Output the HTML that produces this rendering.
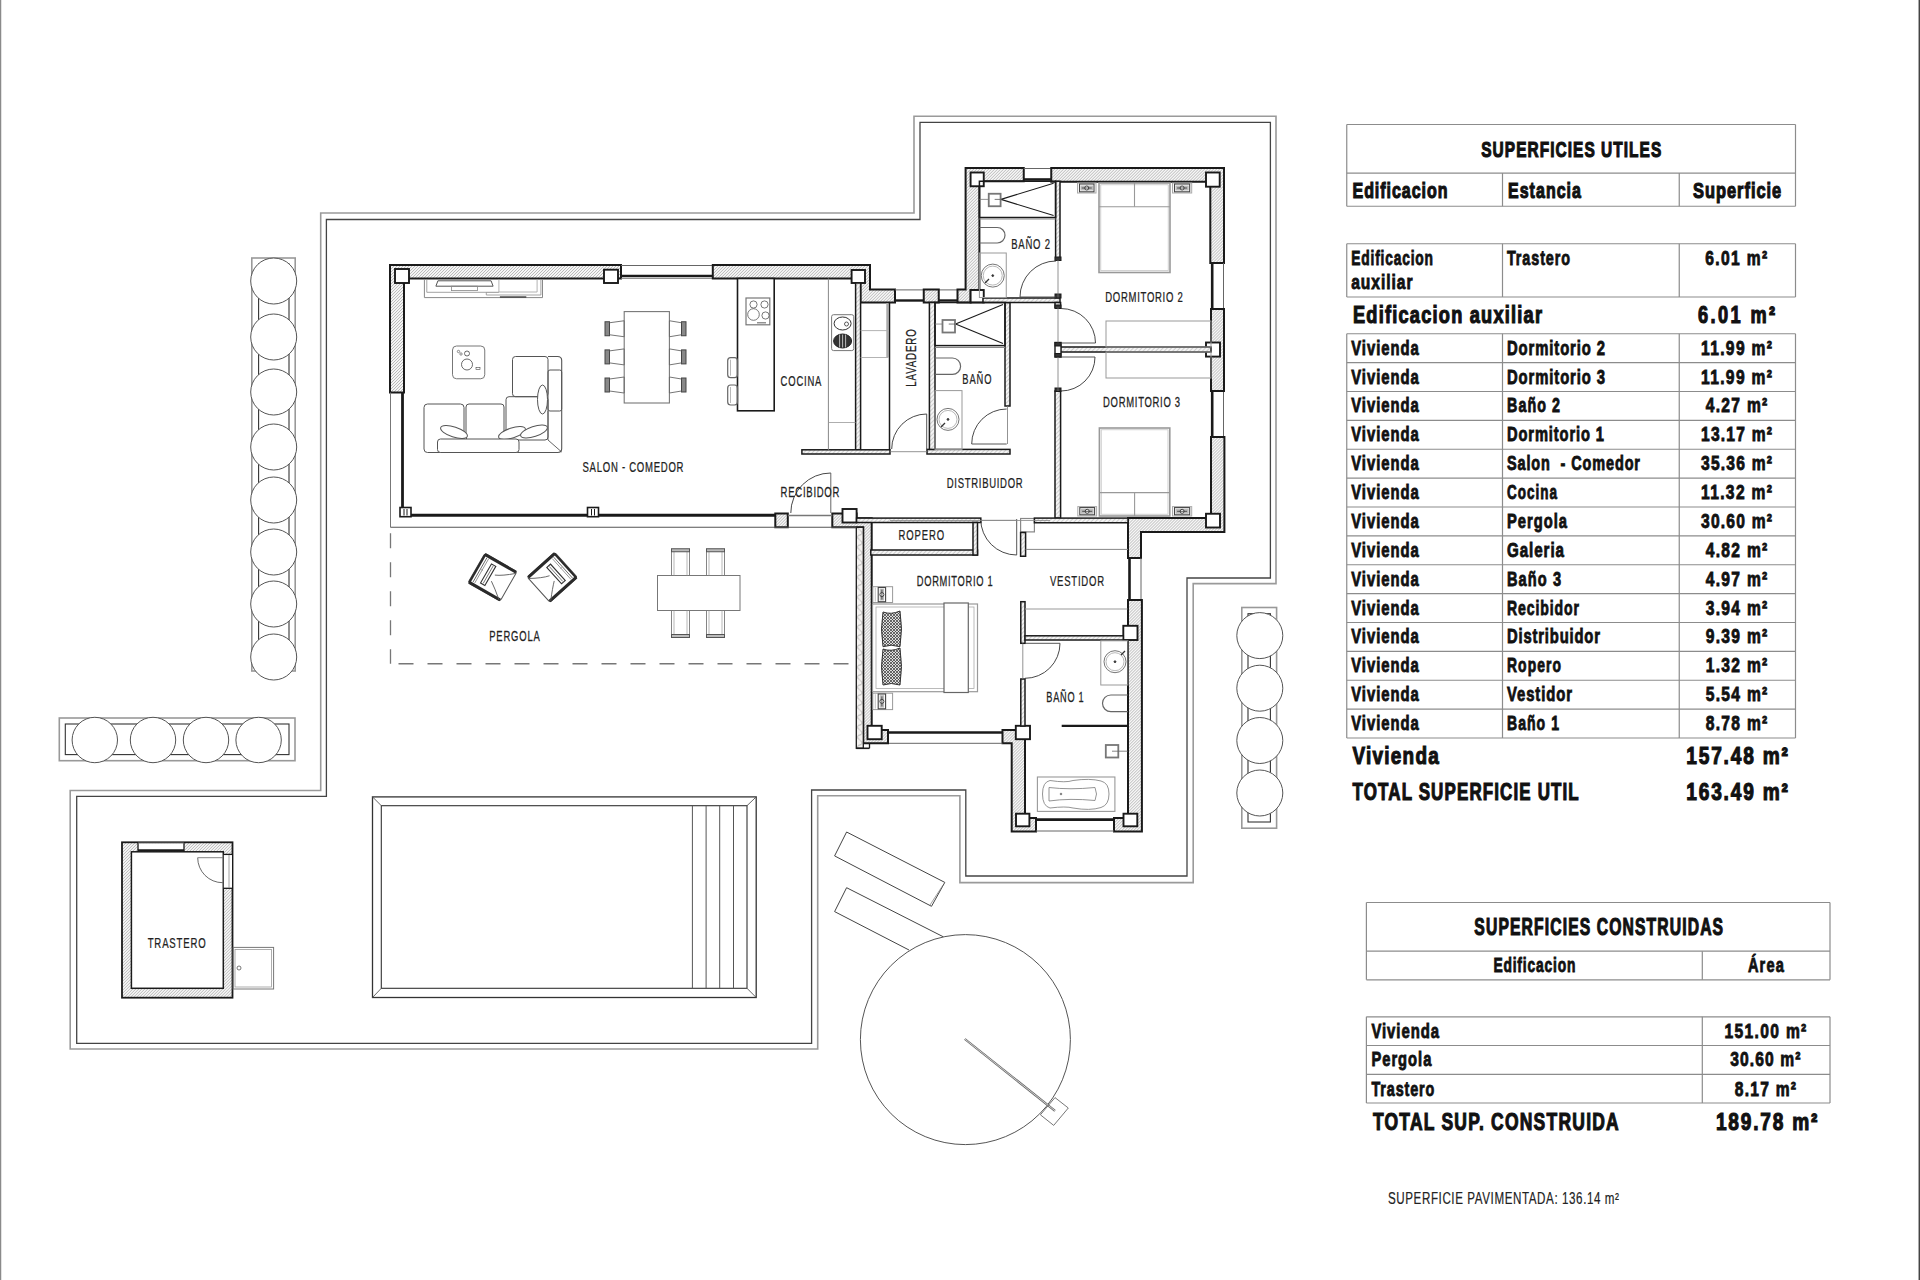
<!DOCTYPE html>
<html><head><meta charset="utf-8"><title>Plano</title>
<style>html,body{margin:0;padding:0;background:#fff;overflow:hidden}svg{display:block}</style>
</head><body>
<svg width="1920" height="1280" viewBox="0 0 1920 1280" style="font-family:'Liberation Sans',sans-serif">
<defs>
<pattern id="hatch" patternUnits="userSpaceOnUse" width="2.12" height="2.12" patternTransform="rotate(45)">
<rect width="2.12" height="2.12" fill="#f6f6f6"/><line x1="0" y1="0" x2="0" y2="2.12" stroke="#7a7a7a" stroke-width="0.7"/></pattern>
<pattern id="hatch2" patternUnits="userSpaceOnUse" width="3" height="3" patternTransform="rotate(45)">
<rect width="3" height="3" fill="#f4f4f4"/><line x1="0" y1="0" x2="0" y2="3" stroke="#999" stroke-width="0.8"/></pattern>
<pattern id="insul" patternUnits="userSpaceOnUse" x="856.3" y="0" width="7" height="10">
<rect width="7" height="10" fill="#f4f2f0"/><path d="M3.5,0 C6.5,2 6.5,4.5 3.5,5 C0.5,5.5 0.5,8 3.5,10" fill="none" stroke="#9a9a9a" stroke-width="0.8"/></pattern>
<pattern id="quilt" patternUnits="userSpaceOnUse" width="3" height="3">
<rect width="3" height="3" fill="#ddd"/><path d="M0,0 L3,3 M3,0 L0,3" stroke="#333" stroke-width="0.7"/></pattern>
</defs>
<line x1="0.50" y1="0.00" x2="0.50" y2="1280.00" stroke="#8a8a8a" stroke-width="1.5" />
<line x1="1919.30" y1="0.00" x2="1919.30" y2="1280.00" stroke="#444" stroke-width="1.5" />
<path d="M70.20,1049.00 L817.70,1049.00 L817.70,795.80 L959.90,795.80 L959.90,882.60 L1193.20,882.60 L1193.20,583.60 L1276.00,583.60 L1276.00,116.30 L914.00,116.30 L914.00,213.00 L320.70,213.00 L320.70,790.50 L70.20,790.50 Z" fill="none" stroke="#9a9a9a" stroke-width="1.6" />
<path d="M76.70,1043.30 L811.60,1043.30 L811.60,790.00 L965.80,790.00 L965.80,876.00 L1187.00,876.00 L1187.00,578.00 L1270.40,578.00 L1270.40,122.30 L920.00,122.30 L920.00,219.50 L326.40,219.50 L326.40,796.40 L76.70,796.40 Z" fill="none" stroke="#444" stroke-width="1.3" />
<rect x="251.80" y="258.00" width="43.40" height="413.00" fill="none" stroke="#999" stroke-width="1.6" />
<rect x="258.60" y="264.00" width="30.40" height="401.00" fill="none" stroke="#333" stroke-width="1.1" />
<circle cx="273.70" cy="281.00" r="23.00" fill="#fff" stroke="#555" stroke-width="1.0" />
<circle cx="273.70" cy="337.00" r="23.00" fill="#fff" stroke="#555" stroke-width="1.0" />
<circle cx="273.70" cy="392.00" r="23.00" fill="#fff" stroke="#555" stroke-width="1.0" />
<circle cx="273.70" cy="447.00" r="23.00" fill="#fff" stroke="#555" stroke-width="1.0" />
<circle cx="273.70" cy="500.00" r="23.00" fill="#fff" stroke="#555" stroke-width="1.0" />
<circle cx="273.70" cy="552.00" r="23.00" fill="#fff" stroke="#555" stroke-width="1.0" />
<circle cx="273.70" cy="604.00" r="23.00" fill="#fff" stroke="#555" stroke-width="1.0" />
<circle cx="273.70" cy="657.00" r="23.00" fill="#fff" stroke="#555" stroke-width="1.0" />
<rect x="59.30" y="718.00" width="235.70" height="42.70" fill="none" stroke="#999" stroke-width="1.6" />
<rect x="65.30" y="724.00" width="223.70" height="30.60" fill="none" stroke="#333" stroke-width="1.1" />
<circle cx="94.80" cy="740.00" r="22.70" fill="#fff" stroke="#555" stroke-width="1.0" />
<circle cx="153.00" cy="740.00" r="22.70" fill="#fff" stroke="#555" stroke-width="1.0" />
<circle cx="206.00" cy="740.00" r="22.70" fill="#fff" stroke="#555" stroke-width="1.0" />
<circle cx="258.60" cy="740.00" r="22.70" fill="#fff" stroke="#555" stroke-width="1.0" />
<rect x="1241.80" y="607.50" width="34.80" height="220.70" fill="none" stroke="#999" stroke-width="1.6" />
<rect x="1248.00" y="613.70" width="22.40" height="208.30" fill="none" stroke="#333" stroke-width="1.1" />
<circle cx="1259.80" cy="635.60" r="23.00" fill="#fff" stroke="#555" stroke-width="1.0" />
<circle cx="1259.80" cy="688.20" r="23.00" fill="#fff" stroke="#555" stroke-width="1.0" />
<circle cx="1259.80" cy="740.50" r="23.00" fill="#fff" stroke="#555" stroke-width="1.0" />
<circle cx="1259.80" cy="793.00" r="23.00" fill="#fff" stroke="#555" stroke-width="1.0" />
<path d="M390.00,265.00 L621.00,265.00 L621.00,278.50 L404.00,278.50 L404.00,392.50 L390.00,392.50 Z" fill="url(#hatch)" stroke="#1a1a1a" stroke-width="2.0" />
<line x1="621.00" y1="265.50" x2="712.80" y2="265.50" stroke="#666" stroke-width="1.0" />
<line x1="621.00" y1="276.00" x2="712.80" y2="276.00" stroke="#1a1a1a" stroke-width="2.6" />
<line x1="621.00" y1="278.50" x2="712.80" y2="278.50" stroke="#777" stroke-width="0.8" />
<path d="M712.80,265.00 L870.00,265.00 L870.00,289.40 L895.00,289.40 L895.00,302.50 L860.50,302.50 L860.50,278.50 L712.80,278.50 Z" fill="url(#hatch)" stroke="#1a1a1a" stroke-width="2.0" />
<line x1="895.00" y1="289.90" x2="923.75" y2="289.90" stroke="#666" stroke-width="1.0" />
<line x1="895.00" y1="300.50" x2="923.75" y2="300.50" stroke="#1a1a1a" stroke-width="2.4" />
<line x1="938.75" y1="289.90" x2="957.50" y2="289.90" stroke="#666" stroke-width="1.0" />
<line x1="938.75" y1="300.50" x2="957.50" y2="300.50" stroke="#1a1a1a" stroke-width="2.4" />
<path d="M923.75,289.40 L938.75,289.40 L938.75,302.50 L923.75,302.50 Z" fill="url(#hatch)" stroke="#1a1a1a" stroke-width="2.0" />
<path d="M957.50,289.40 L965.60,289.40 L965.60,168.00 L1023.75,168.00 L1023.75,181.25 L979.40,181.25 L979.40,290.00 L970.60,290.00 L970.60,302.50 L957.50,302.50 Z" fill="url(#hatch)" stroke="#1a1a1a" stroke-width="2.0" />
<line x1="1023.75" y1="168.50" x2="1051.25" y2="168.50" stroke="#666" stroke-width="1.0" />
<line x1="1023.75" y1="179.50" x2="1051.25" y2="179.50" stroke="#1a1a1a" stroke-width="2.6" />
<path d="M1051.25,168.00 L1224.00,168.00 L1224.00,263.00 L1210.30,263.00 L1210.30,181.70 L1051.25,181.70 Z" fill="url(#hatch)" stroke="#1a1a1a" stroke-width="2.0" />
<line x1="1223.50" y1="263.00" x2="1223.50" y2="309.00" stroke="#666" stroke-width="1.0" />
<line x1="1212.20" y1="263.00" x2="1212.20" y2="309.00" stroke="#1a1a1a" stroke-width="2.6" />
<line x1="1223.50" y1="391.00" x2="1223.50" y2="437.00" stroke="#666" stroke-width="1.0" />
<line x1="1212.20" y1="391.00" x2="1212.20" y2="437.00" stroke="#1a1a1a" stroke-width="2.6" />
<path d="M1211.00,309.00 L1224.00,309.00 L1224.00,391.00 L1211.00,391.00 Z" fill="url(#hatch)" stroke="#1a1a1a" stroke-width="2.0" />
<path d="M1211.00,437.00 L1224.40,437.00 L1224.40,531.90 L1141.00,531.90 L1141.00,558.00 L1128.00,558.00 L1128.00,518.10 L1211.00,518.10 Z" fill="url(#hatch)" stroke="#1a1a1a" stroke-width="2.0" />
<line x1="1141.00" y1="558.00" x2="1141.00" y2="600.00" stroke="#666" stroke-width="1.0" />
<line x1="1129.50" y1="558.00" x2="1129.50" y2="600.00" stroke="#1a1a1a" stroke-width="2.6" />
<path d="M1128.00,600.00 L1141.90,600.00 L1141.90,831.50 L1114.00,831.50 L1114.00,818.00 L1128.00,818.00 Z" fill="url(#hatch)" stroke="#1a1a1a" stroke-width="2.0" />
<path d="M1002.50,730.00 L1025.00,730.00 L1025.00,818.00 L1036.00,818.00 L1036.00,831.50 L1011.70,831.50 L1011.70,743.30 L1002.50,743.30 Z" fill="url(#hatch)" stroke="#1a1a1a" stroke-width="2.0" />
<line x1="1036.00" y1="819.60" x2="1114.00" y2="819.60" stroke="#1a1a1a" stroke-width="2.6" />
<line x1="1036.00" y1="831.00" x2="1114.00" y2="831.00" stroke="#666" stroke-width="1.0" />
<line x1="888.00" y1="732.50" x2="1002.50" y2="732.50" stroke="#1a1a1a" stroke-width="2.6" />
<line x1="888.00" y1="743.30" x2="1002.50" y2="743.30" stroke="#666" stroke-width="1.0" />
<path d="M832.30,513.60 L856.60,513.60 L856.60,518.30 L871.70,518.30 L871.70,730.00 L888.00,730.00 L888.00,743.30 L863.30,743.30 L863.30,527.30 L832.30,527.30 Z" fill="url(#hatch)" stroke="#1a1a1a" stroke-width="2.0" />
<rect x="856.30" y="527.30" width="7.00" height="221.00" fill="url(#insul)" stroke="#1a1a1a" stroke-width="1.3" />
<line x1="856.30" y1="748.30" x2="869.50" y2="748.30" stroke="#1a1a1a" stroke-width="1.6" />
<line x1="869.50" y1="743.30" x2="869.50" y2="748.30" stroke="#1a1a1a" stroke-width="1.3" />
<path d="M775.30,513.60 L787.80,513.60 L787.80,527.30 L775.30,527.30 Z" fill="url(#hatch)" stroke="#1a1a1a" stroke-width="2.0" />
<line x1="390.50" y1="392.50" x2="390.50" y2="527.30" stroke="#777" stroke-width="1.0" />
<line x1="402.50" y1="392.50" x2="402.50" y2="515.20" stroke="#1a1a1a" stroke-width="2.8" />
<line x1="402.50" y1="515.20" x2="775.30" y2="515.20" stroke="#1a1a1a" stroke-width="3.0" />
<line x1="390.50" y1="527.30" x2="856.30" y2="527.30" stroke="#555" stroke-width="1.1" />
<rect x="400.00" y="507.50" width="11.00" height="9.20" fill="#fff" stroke="#1a1a1a" stroke-width="1.6" />
<line x1="404.00" y1="509.00" x2="404.00" y2="515.50" stroke="#1a1a1a" stroke-width="1" />
<line x1="407.00" y1="509.00" x2="407.00" y2="515.50" stroke="#1a1a1a" stroke-width="1" />
<rect x="587.50" y="507.50" width="11.00" height="9.20" fill="#fff" stroke="#1a1a1a" stroke-width="1.6" />
<line x1="591.50" y1="509.00" x2="591.50" y2="515.50" stroke="#1a1a1a" stroke-width="1" />
<line x1="594.50" y1="509.00" x2="594.50" y2="515.50" stroke="#1a1a1a" stroke-width="1" />
<line x1="787.80" y1="515.50" x2="832.30" y2="515.50" stroke="#777" stroke-width="1.6" />
<path d="M790.80,513.00 A40.00,40.00 0 0 1 830.80,473.00" fill="none" stroke="#333" stroke-width="0.9" />
<line x1="830.80" y1="473.00" x2="830.80" y2="513.00" stroke="#555" stroke-width="0.9" />
<rect x="395.00" y="269.00" width="14.00" height="14.00" fill="#fff" stroke="#1a1a1a" stroke-width="1.9" />
<rect x="604.00" y="269.70" width="14.00" height="13.30" fill="#fff" stroke="#1a1a1a" stroke-width="1.9" />
<rect x="851.60" y="270.00" width="13.40" height="13.00" fill="#fff" stroke="#1a1a1a" stroke-width="1.9" />
<rect x="970.60" y="290.00" width="13.15" height="12.50" fill="#fff" stroke="#1a1a1a" stroke-width="1.9" />
<rect x="970.60" y="172.50" width="13.15" height="13.75" fill="#fff" stroke="#1a1a1a" stroke-width="1.9" />
<rect x="1206.00" y="172.50" width="13.70" height="14.20" fill="#fff" stroke="#1a1a1a" stroke-width="1.9" />
<rect x="1206.00" y="342.50" width="14.00" height="14.10" fill="#fff" stroke="#1a1a1a" stroke-width="1.9" />
<rect x="1206.00" y="513.75" width="14.00" height="13.75" fill="#fff" stroke="#1a1a1a" stroke-width="1.9" />
<rect x="842.50" y="509.00" width="14.10" height="13.50" fill="#fff" stroke="#1a1a1a" stroke-width="1.9" />
<rect x="867.50" y="725.80" width="14.20" height="13.40" fill="#fff" stroke="#1a1a1a" stroke-width="1.9" />
<rect x="1015.80" y="725.80" width="14.20" height="13.40" fill="#fff" stroke="#1a1a1a" stroke-width="1.9" />
<rect x="1123.30" y="625.80" width="14.20" height="14.20" fill="#fff" stroke="#1a1a1a" stroke-width="1.9" />
<rect x="1016.00" y="813.70" width="13.40" height="12.60" fill="#fff" stroke="#1a1a1a" stroke-width="1.9" />
<rect x="1123.50" y="813.70" width="13.80" height="12.60" fill="#fff" stroke="#1a1a1a" stroke-width="1.9" />
<rect x="1020.60" y="518.50" width="13.80" height="13.40" fill="#fff" stroke="#888" stroke-width="1.2" />
<rect x="855.60" y="283.00" width="5.00" height="166.80" fill="url(#hatch2)" stroke="#1a1a1a" stroke-width="1.5" />
<rect x="801.90" y="449.80" width="88.10" height="4.20" fill="url(#hatch2)" stroke="#1a1a1a" stroke-width="1.5" />
<rect x="927.00" y="449.40" width="83.00" height="4.60" fill="url(#hatch2)" stroke="#1a1a1a" stroke-width="1.5" />
<rect x="929.40" y="302.50" width="5.60" height="146.90" fill="url(#hatch2)" stroke="#1a1a1a" stroke-width="1.5" />
<rect x="1005.00" y="302.50" width="5.00" height="103.50" fill="url(#hatch2)" stroke="#1a1a1a" stroke-width="1.5" />
<rect x="983.00" y="298.00" width="77.00" height="4.50" fill="url(#hatch2)" stroke="#1a1a1a" stroke-width="1.5" />
<rect x="1055.60" y="181.25" width="4.40" height="78.75" fill="url(#hatch2)" stroke="#1a1a1a" stroke-width="1.5" />
<rect x="1055.00" y="302.50" width="5.60" height="5.00" fill="url(#hatch2)" stroke="#1a1a1a" stroke-width="1.5" />
<rect x="1055.00" y="391.00" width="5.60" height="127.10" fill="url(#hatch2)" stroke="#1a1a1a" stroke-width="1.5" />
<rect x="1060.60" y="347.00" width="150.40" height="5.00" fill="url(#hatch2)" stroke="#1a1a1a" stroke-width="1.5" />
<rect x="1055.00" y="342.50" width="6.00" height="14.50" fill="#fff" stroke="#1a1a1a" stroke-width="1.4" />
<rect x="1055.00" y="342.50" width="6.00" height="3.50" fill="#333" stroke="#1a1a1a" stroke-width="1.0" />
<rect x="1055.00" y="353.50" width="6.00" height="3.50" fill="#333" stroke="#1a1a1a" stroke-width="1.0" />
<rect x="1055.00" y="305.00" width="6.00" height="3.50" fill="#333" stroke="#1a1a1a" stroke-width="1.0" />
<rect x="1055.00" y="388.00" width="6.00" height="3.50" fill="#333" stroke="#1a1a1a" stroke-width="1.0" />
<rect x="1055.00" y="257.00" width="6.00" height="3.50" fill="#333" stroke="#1a1a1a" stroke-width="1.0" />
<rect x="1055.00" y="294.00" width="6.00" height="4.00" fill="#333" stroke="#1a1a1a" stroke-width="1.0" />
<rect x="856.60" y="518.10" width="124.20" height="4.40" fill="url(#hatch2)" stroke="#1a1a1a" stroke-width="1.5" />
<rect x="1034.40" y="518.10" width="93.60" height="4.65" fill="url(#hatch2)" stroke="#1a1a1a" stroke-width="1.5" />
<rect x="870.80" y="550.00" width="106.70" height="5.00" fill="url(#hatch2)" stroke="#1a1a1a" stroke-width="1.5" />
<rect x="973.00" y="522.50" width="4.50" height="32.50" fill="url(#hatch2)" stroke="#1a1a1a" stroke-width="1.5" />
<rect x="1020.60" y="532.50" width="5.00" height="23.75" fill="url(#hatch2)" stroke="#1a1a1a" stroke-width="1.5" />
<rect x="1020.80" y="601.70" width="4.20" height="41.60" fill="url(#hatch2)" stroke="#1a1a1a" stroke-width="1.5" />
<rect x="1020.80" y="679.00" width="4.20" height="47.00" fill="url(#hatch2)" stroke="#1a1a1a" stroke-width="1.5" />
<rect x="1025.00" y="635.80" width="98.30" height="4.20" fill="url(#hatch2)" stroke="#1a1a1a" stroke-width="1.5" />
<path d="M891.70,449.00 A35.00,35.00 0 0 1 926.70,414.00" fill="none" stroke="#333" stroke-width="0.9" />
<line x1="926.70" y1="449.00" x2="926.70" y2="414.00" stroke="#444" stroke-width="0.9" />
<path d="M971.70,444.00 A35.00,35.00 0 0 1 1006.70,409.00" fill="none" stroke="#333" stroke-width="0.9" />
<line x1="1006.70" y1="444.00" x2="971.70" y2="444.00" stroke="#444" stroke-width="0.9" />
<path d="M1020.00,297.00 A36.00,36.00 0 0 1 1056.00,261.00" fill="none" stroke="#333" stroke-width="0.9" />
<line x1="1056.00" y1="297.00" x2="1020.00" y2="297.00" stroke="#444" stroke-width="0.9" />
<path d="M1061.00,308.50 A34.50,34.50 0 0 1 1095.50,343.00" fill="none" stroke="#333" stroke-width="0.9" />
<line x1="1061.00" y1="343.00" x2="1095.50" y2="343.00" stroke="#444" stroke-width="0.9" />
<path d="M1095.00,357.00 A34.00,34.00 0 0 1 1061.00,391.00" fill="none" stroke="#333" stroke-width="0.9" />
<line x1="1061.00" y1="357.00" x2="1095.00" y2="357.00" stroke="#444" stroke-width="0.9" />
<path d="M1016.70,555.00 A36.00,36.00 0 0 1 980.70,519.00" fill="none" stroke="#333" stroke-width="0.9" />
<line x1="1016.70" y1="519.00" x2="1016.70" y2="555.00" stroke="#444" stroke-width="0.9" />
<path d="M1060.00,643.30 A35.00,35.00 0 0 1 1025.00,678.30" fill="none" stroke="#333" stroke-width="0.9" />
<line x1="1025.00" y1="643.30" x2="1060.00" y2="643.30" stroke="#444" stroke-width="0.9" />
<line x1="1058.00" y1="260.00" x2="1058.00" y2="297.50" stroke="#777" stroke-width="0.8" />
<line x1="1058.00" y1="307.50" x2="1058.00" y2="342.50" stroke="#777" stroke-width="0.8" />
<line x1="1058.00" y1="357.00" x2="1058.00" y2="391.00" stroke="#777" stroke-width="0.8" />
<line x1="1022.80" y1="643.30" x2="1022.80" y2="679.00" stroke="#777" stroke-width="0.8" />
<line x1="980.80" y1="520.30" x2="1016.70" y2="520.30" stroke="#777" stroke-width="0.8" />
<line x1="890.00" y1="451.70" x2="927.00" y2="451.70" stroke="#777" stroke-width="0.8" />
<line x1="1007.50" y1="406.00" x2="1007.50" y2="444.00" stroke="#777" stroke-width="0.8" />
<line x1="828.40" y1="278.50" x2="828.40" y2="449.80" stroke="#888" stroke-width="1.0" />
<line x1="828.40" y1="422.50" x2="855.60" y2="422.50" stroke="#999" stroke-width="0.8" />
<rect x="831.60" y="314.70" width="22.15" height="35.90" fill="none" stroke="#777" stroke-width="1.0" rx="2"/>
<ellipse cx="842.6" cy="323.5" rx="8.5" ry="6.5" fill="none" stroke="#333" stroke-width="1"/>
<circle cx="846.50" cy="324.00" r="2.00" fill="none" stroke="#333" stroke-width="0.8" />
<ellipse cx="842.6" cy="341" rx="9" ry="7" fill="#333" stroke="#222" stroke-width="1"/>
<line x1="839.60" y1="334.50" x2="839.60" y2="347.50" stroke="#ddd" stroke-width="0.8" />
<line x1="842.60" y1="334.50" x2="842.60" y2="347.50" stroke="#ddd" stroke-width="0.8" />
<line x1="845.60" y1="334.50" x2="845.60" y2="347.50" stroke="#ddd" stroke-width="0.8" />
<rect x="737.50" y="278.50" width="36.70" height="132.30" fill="#fff" stroke="#1a1a1a" stroke-width="1.6" />
<rect x="746.00" y="298.00" width="23.80" height="26.80" fill="none" stroke="#777" stroke-width="1.2" />
<circle cx="753.50" cy="304.50" r="3.60" fill="none" stroke="#555" stroke-width="0.8" />
<circle cx="764.50" cy="304.50" r="3.60" fill="none" stroke="#555" stroke-width="0.8" />
<circle cx="753.50" cy="314.50" r="5.80" fill="none" stroke="#555" stroke-width="0.8" />
<circle cx="765.50" cy="315.50" r="3.60" fill="none" stroke="#555" stroke-width="0.8" />
<line x1="757.00" y1="322.80" x2="766.00" y2="322.80" stroke="#777" stroke-width="1.2" />
<rect x="727.70" y="357.70" width="9.80" height="20.00" fill="none" stroke="#666" stroke-width="1.2" rx="3"/>
<line x1="730.50" y1="359.70" x2="730.50" y2="375.70" stroke="#999" stroke-width="0.7" />
<rect x="727.70" y="385.00" width="9.80" height="20.00" fill="none" stroke="#666" stroke-width="1.2" rx="3"/>
<line x1="730.50" y1="387.00" x2="730.50" y2="403.00" stroke="#999" stroke-width="0.7" />
<rect x="624.20" y="311.60" width="45.20" height="91.40" fill="none" stroke="#777" stroke-width="1.1" />
<rect x="605.00" y="321.75" width="4.50" height="14.00" fill="#888" stroke="#444" stroke-width="1.0" />
<path d="M609.50,322.75 L624.20,320.75 L624.20,336.75 L609.50,334.75" fill="none" stroke="#666" stroke-width="0.9" />
<rect x="681.50" y="321.75" width="4.50" height="14.00" fill="#888" stroke="#444" stroke-width="1.0" />
<path d="M681.50,322.75 L669.40,320.75 L669.40,336.75 L681.50,334.75" fill="none" stroke="#666" stroke-width="0.9" />
<rect x="605.00" y="349.90" width="4.50" height="14.00" fill="#888" stroke="#444" stroke-width="1.0" />
<path d="M609.50,350.90 L624.20,348.90 L624.20,364.90 L609.50,362.90" fill="none" stroke="#666" stroke-width="0.9" />
<rect x="681.50" y="349.90" width="4.50" height="14.00" fill="#888" stroke="#444" stroke-width="1.0" />
<path d="M681.50,350.90 L669.40,348.90 L669.40,364.90 L681.50,362.90" fill="none" stroke="#666" stroke-width="0.9" />
<rect x="605.00" y="378.00" width="4.50" height="14.00" fill="#888" stroke="#444" stroke-width="1.0" />
<path d="M609.50,379.00 L624.20,377.00 L624.20,393.00 L609.50,391.00" fill="none" stroke="#666" stroke-width="0.9" />
<rect x="681.50" y="378.00" width="4.50" height="14.00" fill="#888" stroke="#444" stroke-width="1.0" />
<path d="M681.50,379.00 L669.40,377.00 L669.40,393.00 L681.50,391.00" fill="none" stroke="#666" stroke-width="0.9" />
<path d="M424.4,279.5 V297.6 H542.5 V279.5" fill="none" stroke="#888" stroke-width="1.0" />
<path d="M426.8,279.5 V292.3 H486.3 V295 H540.9 V279.5" fill="none" stroke="#999" stroke-width="0.9" />
<path d="M498.9,279.5 V292 H537.1 V279.5" fill="none" stroke="#aaa" stroke-width="0.9" />
<path d="M437.9,280.8 H491.1 L493.1,286.2 H435.9 Z" fill="none" stroke="#555" stroke-width="1.0" />
<rect x="451.50" y="286.20" width="26.00" height="4.40" fill="none" stroke="#888" stroke-width="0.8" />
<line x1="499.90" y1="297.00" x2="526.30" y2="297.00" stroke="#333" stroke-width="1.3" />
<line x1="486.30" y1="292.30" x2="498.90" y2="292.30" stroke="#777" stroke-width="0.8" />
<rect x="452.50" y="346.00" width="32.25" height="32.75" fill="none" stroke="#777" stroke-width="1.0" rx="4"/>
<circle cx="467.00" cy="353.50" r="2.50" fill="none" stroke="#444" stroke-width="0.8" />
<circle cx="467.00" cy="364.50" r="5.50" fill="none" stroke="#444" stroke-width="0.8" />
<circle cx="458.50" cy="351.50" r="1.20" fill="none" stroke="#444" stroke-width="0.6" />
<circle cx="461.00" cy="354.00" r="1.20" fill="none" stroke="#444" stroke-width="0.6" />
<rect x="476.00" y="367.50" width="4.00" height="2.00" fill="none" stroke="#444" stroke-width="0.6" />
<rect x="424.00" y="404.00" width="40.00" height="48.50" fill="none" stroke="#555" stroke-width="1.0" rx="3.5"/>
<rect x="466.00" y="404.00" width="38.00" height="36.00" fill="none" stroke="#555" stroke-width="1.0" rx="3"/>
<rect x="506.00" y="396.70" width="42.00" height="43.30" fill="none" stroke="#555" stroke-width="1.0" rx="3"/>
<rect x="512.50" y="356.50" width="35.50" height="40.20" fill="none" stroke="#555" stroke-width="1.0" rx="3"/>
<path d="M548,356.5 H557.5 Q561.7,356.5 561.7,360.5 V448.5 Q561.7,452.5 557.5,452.5 H464" fill="none" stroke="#555" stroke-width="1.1" />
<rect x="548.00" y="370.00" width="13.70" height="41.00" fill="none" stroke="#555" stroke-width="1.0" rx="2"/>
<path d="M548,411 V440 L561.7,452" fill="none" stroke="#555" stroke-width="0.9" />
<ellipse cx="542.5" cy="399.5" rx="5" ry="14.5" fill="#fff" stroke="#555" stroke-width="1"/>
<ellipse cx="454" cy="432" rx="14" ry="5" transform="rotate(18 454 432)" fill="#fff" stroke="#555" stroke-width="1"/>
<ellipse cx="512" cy="433" rx="14" ry="5" transform="rotate(-18 512 433)" fill="#fff" stroke="#555" stroke-width="1"/>
<ellipse cx="534" cy="431.5" rx="14" ry="5" transform="rotate(-18 534 431.5)" fill="#fff" stroke="#555" stroke-width="1"/>
<rect x="437.50" y="439.00" width="81.50" height="13.50" fill="#fff" stroke="#555" stroke-width="1.0" rx="3"/>
<rect x="886.30" y="303.00" width="2.30" height="54.00" fill="#aaa" stroke="none" stroke-width="0" />
<line x1="889.50" y1="303.00" x2="889.50" y2="449.80" stroke="#1a1a1a" stroke-width="1.5" />
<line x1="860.60" y1="330.60" x2="888.75" y2="330.60" stroke="#aaa" stroke-width="0.9" />
<line x1="860.60" y1="357.50" x2="888.75" y2="357.50" stroke="#aaa" stroke-width="0.9" />
<rect x="979.40" y="181.25" width="76.20" height="36.25" fill="none" stroke="#1a1a1a" stroke-width="1.5" />
<line x1="1001.00" y1="199.38" x2="1053.60" y2="183.25" stroke="#1a1a1a" stroke-width="1.1" />
<line x1="1001.00" y1="199.38" x2="1053.60" y2="215.50" stroke="#1a1a1a" stroke-width="1.1" />
<rect x="988.75" y="193.75" width="11.85" height="12.50" fill="none" stroke="#777" stroke-width="1.8" />
<line x1="979.40" y1="199.38" x2="988.75" y2="199.38" stroke="#777" stroke-width="0.8" />
<line x1="994.67" y1="199.38" x2="1000.60" y2="199.38" stroke="#555" stroke-width="0.8" />
<line x1="979.40" y1="219.00" x2="1055.60" y2="219.00" stroke="#888" stroke-width="1.0" />
<rect x="935.00" y="302.50" width="70.00" height="43.10" fill="none" stroke="#1a1a1a" stroke-width="1.5" />
<line x1="955.60" y1="324.05" x2="1003.00" y2="304.50" stroke="#1a1a1a" stroke-width="1.1" />
<line x1="955.60" y1="324.05" x2="1003.00" y2="343.60" stroke="#1a1a1a" stroke-width="1.1" />
<rect x="942.50" y="320.00" width="12.50" height="12.50" fill="none" stroke="#777" stroke-width="1.8" />
<line x1="935.00" y1="324.05" x2="942.50" y2="324.05" stroke="#777" stroke-width="0.8" />
<line x1="948.75" y1="324.05" x2="955.00" y2="324.05" stroke="#555" stroke-width="0.8" />
<line x1="935.00" y1="347.50" x2="1005.00" y2="347.50" stroke="#888" stroke-width="1.0" />
<path d="M979.4,227.5 H997.25 A7.75,7.75 0 0 1 997.25,243 H979.4" fill="none" stroke="#666" stroke-width="1.2" />
<path d="M935,358 H952.4000000000001 A8.199999999999989,8.199999999999989 0 0 1 952.4000000000001,374.4 H935" fill="none" stroke="#666" stroke-width="1.2" />
<path d="M1127.9,695 H1110.85 A8.350000000000023,8.350000000000023 0 0 0 1110.85,711.7 H1127.9" fill="none" stroke="#666" stroke-width="1.2" />
<rect x="979.40" y="253.00" width="26.85" height="44.50" fill="none" stroke="#999" stroke-width="1.0" />
<circle cx="992.75" cy="275.60" r="11.50" fill="none" stroke="#666" stroke-width="0.9" />
<circle cx="992.75" cy="275.60" r="9.50" fill="none" stroke="#999" stroke-width="0.7" />
<circle cx="992.75" cy="275.60" r="0.90" fill="#333" stroke="#333" stroke-width="1" />
<line x1="985.00" y1="283.00" x2="989.00" y2="279.00" stroke="#333" stroke-width="1.2" />
<rect x="935.00" y="390.60" width="27.00" height="58.80" fill="none" stroke="#999" stroke-width="1.0" />
<circle cx="948.00" cy="419.40" r="11.00" fill="none" stroke="#666" stroke-width="0.9" />
<circle cx="948.00" cy="419.40" r="9.00" fill="none" stroke="#999" stroke-width="0.7" />
<circle cx="948.00" cy="419.40" r="0.90" fill="#333" stroke="#333" stroke-width="1" />
<line x1="941.00" y1="427.00" x2="945.00" y2="423.00" stroke="#333" stroke-width="1.2" />
<rect x="1100.80" y="640.80" width="27.10" height="44.20" fill="none" stroke="#999" stroke-width="1.0" />
<circle cx="1115.00" cy="661.70" r="11.00" fill="none" stroke="#666" stroke-width="0.9" />
<circle cx="1115.00" cy="661.70" r="9.00" fill="none" stroke="#999" stroke-width="0.7" />
<circle cx="1115.00" cy="661.70" r="0.90" fill="#333" stroke="#333" stroke-width="1" />
<line x1="1121.00" y1="655.00" x2="1125.00" y2="651.00" stroke="#333" stroke-width="1.2" />
<line x1="1061.70" y1="725.80" x2="1127.90" y2="725.80" stroke="#1a1a1a" stroke-width="2.2" />
<rect x="1105.80" y="745.00" width="12.50" height="12.50" fill="none" stroke="#777" stroke-width="1.8" />
<line x1="1112.00" y1="751.20" x2="1127.90" y2="751.20" stroke="#666" stroke-width="0.8" />
<rect x="1037.40" y="777.00" width="77.50" height="34.40" fill="none" stroke="#999" stroke-width="1.1" />
<path d="M1050,780.5 Q1066,783 1073,780.5 Q1090,778 1101,781 Q1109,783 1109,794 Q1109,805 1101,807.5 Q1090,811 1073,808 Q1066,806 1050,808 Q1042.5,806 1042.5,794 Q1042.5,782 1050,780.5 Z" fill="none" stroke="#888" stroke-width="0.9" />
<path d="M1049,787.5 Q1070,790 1095,787.5 Q1098,794 1095,800.5 Q1070,798 1049,801 Z" fill="none" stroke="#888" stroke-width="0.9" />
<circle cx="1061.00" cy="794.00" r="0.80" fill="none" stroke="#666" stroke-width="1" />
<rect x="1106.00" y="321.00" width="105.00" height="26.00" fill="none" stroke="#999" stroke-width="1.0" />
<rect x="1106.00" y="352.00" width="105.00" height="26.00" fill="none" stroke="#999" stroke-width="1.0" />
<line x1="1025.60" y1="549.40" x2="1128.00" y2="549.40" stroke="#888" stroke-width="1.0" />
<line x1="1025.00" y1="609.00" x2="1127.50" y2="609.00" stroke="#999" stroke-width="1.0" />
<line x1="890.00" y1="520.50" x2="1050.00" y2="520.50" stroke="#888" stroke-width="0.8" />
<rect x="1099.00" y="183.00" width="71.00" height="89.50" fill="none" stroke="#999" stroke-width="1.6" />
<rect x="1100.80" y="184.80" width="67.40" height="85.90" fill="none" stroke="#bbb" stroke-width="0.7" />
<line x1="1099.00" y1="206.70" x2="1170.00" y2="206.70" stroke="#999" stroke-width="1.1" />
<line x1="1134.50" y1="183.00" x2="1134.50" y2="206.70" stroke="#999" stroke-width="1.1" />
<rect x="1077.50" y="183.00" width="18.50" height="10.00" fill="none" stroke="#aaa" stroke-width="1.0" />
<rect x="1079.50" y="184.00" width="14.50" height="7.80" fill="none" stroke="#444" stroke-width="1.1" />
<rect x="1080.50" y="185.50" width="12.50" height="5.00" fill="#bbb" stroke="none" stroke-width="0" />
<circle cx="1086.75" cy="188.00" r="2.00" fill="#fff" stroke="#333" stroke-width="0.9" />
<line x1="1081.75" y1="188.00" x2="1091.75" y2="188.00" stroke="#333" stroke-width="0.8" />
<rect x="1172.50" y="183.00" width="19.20" height="10.00" fill="none" stroke="#aaa" stroke-width="1.0" />
<rect x="1174.50" y="184.00" width="15.20" height="7.80" fill="none" stroke="#444" stroke-width="1.1" />
<rect x="1175.50" y="185.50" width="13.20" height="5.00" fill="#bbb" stroke="none" stroke-width="0" />
<circle cx="1182.10" cy="188.00" r="2.00" fill="#fff" stroke="#333" stroke-width="0.9" />
<line x1="1177.10" y1="188.00" x2="1187.10" y2="188.00" stroke="#333" stroke-width="0.8" />
<rect x="1099.40" y="428.00" width="70.40" height="88.00" fill="none" stroke="#999" stroke-width="1.6" />
<rect x="1101.20" y="429.80" width="66.80" height="84.40" fill="none" stroke="#bbb" stroke-width="0.7" />
<line x1="1099.40" y1="492.60" x2="1169.80" y2="492.60" stroke="#999" stroke-width="1.1" />
<line x1="1134.60" y1="492.60" x2="1134.60" y2="516.00" stroke="#999" stroke-width="1.1" />
<rect x="1077.80" y="506.60" width="18.80" height="9.40" fill="none" stroke="#aaa" stroke-width="1.0" />
<rect x="1079.80" y="507.60" width="14.80" height="7.20" fill="none" stroke="#444" stroke-width="1.1" />
<rect x="1080.80" y="508.80" width="12.80" height="5.00" fill="#bbb" stroke="none" stroke-width="0" />
<circle cx="1087.20" cy="511.30" r="2.00" fill="#fff" stroke="#333" stroke-width="0.9" />
<line x1="1082.20" y1="511.30" x2="1092.20" y2="511.30" stroke="#333" stroke-width="0.8" />
<rect x="1172.50" y="506.60" width="19.20" height="9.40" fill="none" stroke="#aaa" stroke-width="1.0" />
<rect x="1174.50" y="507.60" width="15.20" height="7.20" fill="none" stroke="#444" stroke-width="1.1" />
<rect x="1175.50" y="508.80" width="13.20" height="5.00" fill="#bbb" stroke="none" stroke-width="0" />
<circle cx="1182.10" cy="511.30" r="2.00" fill="#fff" stroke="#333" stroke-width="0.9" />
<line x1="1177.10" y1="511.30" x2="1187.10" y2="511.30" stroke="#333" stroke-width="0.8" />
<rect x="872.50" y="604.00" width="105.00" height="87.70" fill="none" stroke="#999" stroke-width="1.2" />
<rect x="876.00" y="607.00" width="98.00" height="81.50" fill="none" stroke="#aaa" stroke-width="0.8" />
<rect x="944.00" y="603.00" width="24.30" height="89.50" fill="#fff" stroke="#666" stroke-width="1.2" />
<path d="M883,612 Q891,615 900,611 Q903,628.85 900,646.7 Q891,643.7 883,646.7 Q880,628.85 883,612 Z" fill="url(#quilt)" stroke="#333" stroke-width="1.0" />
<path d="M883,649 Q891,652 900,648 Q903,666.5 900,685 Q891,682 883,685 Q880,666.5 883,649 Z" fill="url(#quilt)" stroke="#333" stroke-width="1.0" />
<rect x="872.80" y="586.70" width="19.80" height="15.80" fill="none" stroke="#999" stroke-width="1.0" />
<rect x="878.20" y="587.50" width="7.40" height="14.20" fill="none" stroke="#444" stroke-width="1.1" />
<rect x="879.70" y="588.70" width="4.40" height="11.80" fill="#bbb" stroke="none" stroke-width="0" />
<circle cx="881.90" cy="594.60" r="2.00" fill="#fff" stroke="#333" stroke-width="0.9" />
<line x1="881.90" y1="589.60" x2="881.90" y2="599.60" stroke="#333" stroke-width="0.8" />
<line x1="875.30" y1="587.70" x2="875.30" y2="601.50" stroke="#aaa" stroke-width="0.7" />
<rect x="872.80" y="693.20" width="19.80" height="16.40" fill="none" stroke="#999" stroke-width="1.0" />
<rect x="878.20" y="694.00" width="7.40" height="14.80" fill="none" stroke="#444" stroke-width="1.1" />
<rect x="879.70" y="695.20" width="4.40" height="12.40" fill="#bbb" stroke="none" stroke-width="0" />
<circle cx="881.90" cy="701.40" r="2.00" fill="#fff" stroke="#333" stroke-width="0.9" />
<line x1="881.90" y1="696.40" x2="881.90" y2="706.40" stroke="#333" stroke-width="0.8" />
<line x1="875.30" y1="694.20" x2="875.30" y2="708.60" stroke="#aaa" stroke-width="0.7" />
<line x1="390.50" y1="527.30" x2="390.50" y2="663.75" stroke="#777" stroke-width="1.3" stroke-dasharray="15 14" stroke-dashoffset="-6"/>
<line x1="390.50" y1="663.75" x2="856.30" y2="663.75" stroke="#777" stroke-width="1.3" stroke-dasharray="15 14" stroke-dashoffset="-8"/>
<rect x="657.50" y="575.50" width="82.50" height="35.00" fill="none" stroke="#777" stroke-width="1.0" />
<line x1="671.50" y1="548.75" x2="671.50" y2="575.50" stroke="#777" stroke-width="0.9" />
<line x1="674.00" y1="548.75" x2="674.00" y2="575.50" stroke="#999" stroke-width="0.7" />
<line x1="689.50" y1="548.75" x2="689.50" y2="575.50" stroke="#777" stroke-width="0.9" />
<line x1="687.00" y1="548.75" x2="687.00" y2="575.50" stroke="#999" stroke-width="0.7" />
<rect x="671.50" y="548.75" width="18.00" height="3.00" fill="#bbb" stroke="#555" stroke-width="1.0" />
<line x1="671.50" y1="637.50" x2="671.50" y2="610.50" stroke="#777" stroke-width="0.9" />
<line x1="674.00" y1="637.50" x2="674.00" y2="610.50" stroke="#999" stroke-width="0.7" />
<line x1="689.50" y1="637.50" x2="689.50" y2="610.50" stroke="#777" stroke-width="0.9" />
<line x1="687.00" y1="637.50" x2="687.00" y2="610.50" stroke="#999" stroke-width="0.7" />
<rect x="671.50" y="634.50" width="18.00" height="3.00" fill="#bbb" stroke="#555" stroke-width="1.0" />
<line x1="706.50" y1="548.75" x2="706.50" y2="575.50" stroke="#777" stroke-width="0.9" />
<line x1="709.00" y1="548.75" x2="709.00" y2="575.50" stroke="#999" stroke-width="0.7" />
<line x1="724.50" y1="548.75" x2="724.50" y2="575.50" stroke="#777" stroke-width="0.9" />
<line x1="722.00" y1="548.75" x2="722.00" y2="575.50" stroke="#999" stroke-width="0.7" />
<rect x="706.50" y="548.75" width="18.00" height="3.00" fill="#bbb" stroke="#555" stroke-width="1.0" />
<line x1="706.50" y1="637.50" x2="706.50" y2="610.50" stroke="#777" stroke-width="0.9" />
<line x1="709.00" y1="637.50" x2="709.00" y2="610.50" stroke="#999" stroke-width="0.7" />
<line x1="724.50" y1="637.50" x2="724.50" y2="610.50" stroke="#777" stroke-width="0.9" />
<line x1="722.00" y1="637.50" x2="722.00" y2="610.50" stroke="#999" stroke-width="0.7" />
<rect x="706.50" y="634.50" width="18.00" height="3.00" fill="#bbb" stroke="#555" stroke-width="1.0" />
<g transform="translate(492.5 577.2) rotate(29.8)"><rect x="-18.5" y="-17" width="37" height="34" rx="2.5" fill="#fff" stroke="#555" stroke-width="1"/><line x1="-18" y1="-16" x2="18" y2="-16" stroke="#2a2a2a" stroke-width="3"/><line x1="-18" y1="16" x2="18" y2="16" stroke="#2a2a2a" stroke-width="3"/><line x1="-17.5" y1="-16" x2="-17.5" y2="16" stroke="#2a2a2a" stroke-width="2.2"/><line x1="-14.5" y1="-14" x2="-14.5" y2="14" stroke="#555" stroke-width="0.8"/><line x1="-12.5" y1="-14" x2="-12.5" y2="14" stroke="#777" stroke-width="0.7"/><line x1="-13.5" y1="-1" x2="-12" y2="-1" stroke="#777" stroke-width="0.7"/><rect x="-7.5" y="-11" width="5" height="22" fill="#fff" stroke="#333" stroke-width="1.1"/><line x1="-5" y1="-10" x2="-5" y2="10" stroke="#666" stroke-width="0.8"/><path d="M1,-3 Q8,-6 18.5,-15 M1,4 Q7,8 17,16.5" fill="none" stroke="#555" stroke-width="0.8"/></g>
<g transform="translate(552.3 577.3) rotate(-42)"><rect x="-18.5" y="-17" width="37" height="34" rx="2.5" fill="#fff" stroke="#555" stroke-width="1"/><line x1="-18" y1="-16" x2="18" y2="-16" stroke="#2a2a2a" stroke-width="3"/><line x1="-18" y1="16" x2="18" y2="16" stroke="#2a2a2a" stroke-width="3"/><line x1="17.5" y1="-16" x2="17.5" y2="16" stroke="#2a2a2a" stroke-width="2.2"/><line x1="14.5" y1="-14" x2="14.5" y2="14" stroke="#555" stroke-width="0.8"/><line x1="12.5" y1="-14" x2="12.5" y2="14" stroke="#777" stroke-width="0.7"/><line x1="13.5" y1="-1" x2="12" y2="-1" stroke="#777" stroke-width="0.7"/><rect x="2.5" y="-11" width="5" height="22" fill="#fff" stroke="#333" stroke-width="1.1"/><line x1="5" y1="-10" x2="5" y2="10" stroke="#666" stroke-width="0.8"/><path d="M-1,-3 Q-8,-6 -18.5,-15 M-1,4 Q-7,8 -17,16.5" fill="none" stroke="#555" stroke-width="0.8"/></g>
<rect x="122.00" y="842.30" width="110.50" height="155.40" fill="url(#hatch)" stroke="#1a1a1a" stroke-width="1.8" />
<rect x="131.40" y="851.80" width="91.90" height="136.50" fill="#fff" stroke="#1a1a1a" stroke-width="1.5" />
<rect x="138.50" y="843.20" width="45.50" height="7.80" fill="#fff" stroke="none" stroke-width="0" />
<line x1="138.00" y1="842.30" x2="138.00" y2="851.80" stroke="#1a1a1a" stroke-width="1.3" />
<line x1="184.00" y1="842.30" x2="184.00" y2="851.80" stroke="#1a1a1a" stroke-width="1.3" />
<line x1="138.00" y1="843.00" x2="184.00" y2="843.00" stroke="#777" stroke-width="0.9" />
<line x1="138.00" y1="850.30" x2="184.00" y2="850.30" stroke="#1a1a1a" stroke-width="2.0" />
<rect x="223.80" y="854.40" width="8.20" height="33.90" fill="#fff" stroke="none" stroke-width="0" />
<line x1="223.30" y1="854.40" x2="232.50" y2="854.40" stroke="#1a1a1a" stroke-width="1.3" />
<line x1="223.30" y1="888.30" x2="232.50" y2="888.30" stroke="#1a1a1a" stroke-width="1.3" />
<line x1="229.00" y1="855.00" x2="229.00" y2="888.00" stroke="#888" stroke-width="0.8" />
<path d="M222.70,882.70 A25.00,25.00 0 0 1 197.70,857.70" fill="none" stroke="#444" stroke-width="0.8" />
<line x1="197.70" y1="857.70" x2="222.70" y2="857.70" stroke="#666" stroke-width="0.8" />
<rect x="233.20" y="947.40" width="40.40" height="41.60" fill="none" stroke="#777" stroke-width="1.0" />
<rect x="235.00" y="949.50" width="36.50" height="37.50" fill="none" stroke="#999" stroke-width="0.8" />
<circle cx="239.00" cy="968.00" r="2.00" fill="none" stroke="#555" stroke-width="0.8" />
<rect x="372.50" y="796.90" width="383.70" height="200.60" fill="none" stroke="#333" stroke-width="1.3" />
<rect x="381.30" y="805.70" width="365.70" height="182.60" fill="none" stroke="#333" stroke-width="1.1" />
<line x1="372.50" y1="796.90" x2="381.30" y2="805.70" stroke="#555" stroke-width="0.9" />
<line x1="756.20" y1="796.90" x2="747.00" y2="805.70" stroke="#555" stroke-width="0.9" />
<line x1="372.50" y1="997.50" x2="381.30" y2="988.30" stroke="#555" stroke-width="0.9" />
<line x1="756.20" y1="997.50" x2="747.00" y2="988.30" stroke="#555" stroke-width="0.9" />
<line x1="692.40" y1="805.70" x2="692.40" y2="988.30" stroke="#555" stroke-width="1.0" />
<line x1="706.10" y1="805.70" x2="706.10" y2="988.30" stroke="#555" stroke-width="1.0" />
<line x1="719.70" y1="805.70" x2="719.70" y2="988.30" stroke="#555" stroke-width="1.0" />
<line x1="733.50" y1="805.70" x2="733.50" y2="988.30" stroke="#555" stroke-width="1.0" />
<path d="M846.60,832.00 L944.80,882.40 L931.50,906.30 L834.60,855.90 Z" fill="none" stroke="#444" stroke-width="1.0" />
<line x1="943.00" y1="885.00" x2="930.00" y2="905.00" stroke="#888" stroke-width="0.8" />
<path d="M909,950 L834.6,911.6 L846.6,887.7 L943.5,936.9" fill="none" stroke="#444" stroke-width="1.0" />
<circle cx="965.40" cy="1039.60" r="105.00" fill="#fff" stroke="#555" stroke-width="1.0" />
<line x1="964.80" y1="1039.00" x2="1055.00" y2="1110.80" stroke="#666" stroke-width="2.2" />
<line x1="964.80" y1="1039.00" x2="1055.00" y2="1110.80" stroke="#fff" stroke-width="0.7" />
<path d="M1040.40,1114.80 L1055.00,1097.60 L1068.30,1108.00 L1053.70,1125.40 Z" fill="none" stroke="#666" stroke-width="0.9" />
<text x="1655.52" y="301.70" transform="scale(0.6910216718266254 1)" font-family="Liberation Sans" font-size="13.8" text-anchor="middle" fill="#222" stroke="#222" stroke-width="0.25" textLength="112.2" lengthAdjust="spacing">DORMITORIO 2</text>
<text x="1662.77" y="407.00" transform="scale(0.68656346749226 1)" font-family="Liberation Sans" font-size="13.8" text-anchor="middle" fill="#222" stroke="#222" stroke-width="0.25" textLength="112.2" lengthAdjust="spacing">DORMITORIO 3</text>
<text x="1495.57" y="248.75" transform="scale(0.6891015745600494 1)" font-family="Liberation Sans" font-size="13.8" text-anchor="middle" fill="#222" stroke="#222" stroke-width="0.25" textLength="56.2" lengthAdjust="spacing">BAÑO 2</text>
<text x="1443.91" y="383.75" transform="scale(0.6765641230523372 1)" font-family="Liberation Sans" font-size="13.8" text-anchor="middle" fill="#222" stroke="#222" stroke-width="0.25" textLength="43.5" lengthAdjust="spacing">BAÑO</text>
<text x="1170.78" y="385.80" transform="scale(0.6841572052401746 1)" font-family="Liberation Sans" font-size="13.8" text-anchor="middle" fill="#222" stroke="#222" stroke-width="0.25" textLength="59.6" lengthAdjust="spacing">COCINA</text>
<text x="913.01" y="472.50" transform="scale(0.6933142652842331 1)" font-family="Liberation Sans" font-size="13.8" text-anchor="middle" fill="#222" stroke="#222" stroke-width="0.25" textLength="145.7" lengthAdjust="spacing">SALON - COMEDOR</text>
<text x="1173.55" y="497.50" transform="scale(0.6902139800285307 1)" font-family="Liberation Sans" font-size="13.8" text-anchor="middle" fill="#222" stroke="#222" stroke-width="0.25" textLength="85.2" lengthAdjust="spacing">RECIBIDOR</text>
<text x="1427.41" y="488.30" transform="scale(0.6898530573550324 1)" font-family="Liberation Sans" font-size="13.8" text-anchor="middle" fill="#222" stroke="#222" stroke-width="0.25" textLength="109.9" lengthAdjust="spacing">DISTRIBUIDOR</text>
<text x="1336.86" y="539.70" transform="scale(0.689153605015674 1)" font-family="Liberation Sans" font-size="13.8" text-anchor="middle" fill="#222" stroke="#222" stroke-width="0.25" textLength="66.5" lengthAdjust="spacing">ROPERO</text>
<text x="1412.56" y="585.80" transform="scale(0.6758637770897833 1)" font-family="Liberation Sans" font-size="13.8" text-anchor="middle" fill="#222" stroke="#222" stroke-width="0.25" textLength="112.2" lengthAdjust="spacing">DORMITORIO 1</text>
<text x="1557.24" y="585.80" transform="scale(0.6916083296411166 1)" font-family="Liberation Sans" font-size="13.8" text-anchor="middle" fill="#222" stroke="#222" stroke-width="0.25" textLength="78.4" lengthAdjust="spacing">VESTIDOR</text>
<text x="1597.01" y="701.70" transform="scale(0.6668724915097253 1)" font-family="Liberation Sans" font-size="13.8" text-anchor="middle" fill="#222" stroke="#222" stroke-width="0.25" textLength="56.2" lengthAdjust="spacing">BAÑO 1</text>
<text x="751.54" y="641.00" transform="scale(0.6845901639344262 1)" font-family="Liberation Sans" font-size="13.8" text-anchor="middle" fill="#222" stroke="#222" stroke-width="0.25" textLength="74.1" lengthAdjust="spacing">PERGOLA</text>
<text x="254.30" y="948.00" transform="scale(0.6948419301164726 1)" font-family="Liberation Sans" font-size="13.8" text-anchor="middle" fill="#222" stroke="#222" stroke-width="0.25" textLength="83.5" lengthAdjust="spacing">TRASTERO</text>
<g transform="translate(915.6 358) rotate(-90)"><text x="0" y="0" transform="scale(0.7079948696023942 1)" font-family="Liberation Sans" font-size="13.8" text-anchor="middle" fill="#222" stroke="#222" stroke-width="0.25" textLength="81.2" lengthAdjust="spacing">LAVADERO</text></g>
<line x1="1346.75" y1="124.50" x2="1795.50" y2="124.50" stroke="#8c8c8c" stroke-width="1.2" />
<line x1="1346.75" y1="173.10" x2="1795.50" y2="173.10" stroke="#8c8c8c" stroke-width="1.2" />
<line x1="1346.75" y1="206.25" x2="1795.50" y2="206.25" stroke="#8c8c8c" stroke-width="1.2" />
<line x1="1346.75" y1="124.50" x2="1346.75" y2="206.25" stroke="#8c8c8c" stroke-width="1.2" />
<line x1="1795.50" y1="124.50" x2="1795.50" y2="206.25" stroke="#8c8c8c" stroke-width="1.2" />
<line x1="1502.50" y1="173.10" x2="1502.50" y2="206.25" stroke="#8c8c8c" stroke-width="1.2" />
<line x1="1679.25" y1="173.10" x2="1679.25" y2="206.25" stroke="#8c8c8c" stroke-width="1.2" />
<text x="2291.41" y="157.00" transform="scale(0.6857142857142857 1)" font-family="Liberation Sans" font-size="22.5" font-weight="bold" text-anchor="middle" fill="#111" stroke="#111" stroke-width="1.15" textLength="262.5" lengthAdjust="spacing">SUPERFICIES UTILES</text>
<text x="1898.99" y="198.00" transform="scale(0.7122217883639204 1)" font-family="Liberation Sans" font-size="22.5" font-weight="bold" text-anchor="start" fill="#111" stroke="#111" stroke-width="1.15" textLength="133.4" lengthAdjust="spacing">Edificacion</text>
<text x="2124.57" y="198.00" transform="scale(0.7097906819716407 1)" font-family="Liberation Sans" font-size="22.5" font-weight="bold" text-anchor="start" fill="#111" stroke="#111" stroke-width="1.15" textLength="102.8" lengthAdjust="spacing">Estancia</text>
<text x="2319.08" y="198.00" transform="scale(0.7300301594140457 1)" font-family="Liberation Sans" font-size="22.5" font-weight="bold" text-anchor="start" fill="#111" stroke="#111" stroke-width="1.15" textLength="120.9" lengthAdjust="spacing">Superficie</text>
<line x1="1346.75" y1="243.75" x2="1795.50" y2="243.75" stroke="#8c8c8c" stroke-width="1.2" />
<line x1="1346.75" y1="297.00" x2="1795.50" y2="297.00" stroke="#8c8c8c" stroke-width="1.2" />
<line x1="1346.75" y1="243.75" x2="1346.75" y2="297.00" stroke="#8c8c8c" stroke-width="1.2" />
<line x1="1795.50" y1="243.75" x2="1795.50" y2="297.00" stroke="#8c8c8c" stroke-width="1.2" />
<line x1="1502.50" y1="243.75" x2="1502.50" y2="297.00" stroke="#8c8c8c" stroke-width="1.2" />
<line x1="1679.25" y1="243.75" x2="1679.25" y2="297.00" stroke="#8c8c8c" stroke-width="1.2" />
<text x="1959.96" y="265.00" transform="scale(0.6894289897510981 1)" font-family="Liberation Sans" font-size="20" font-weight="bold" text-anchor="start" fill="#111" stroke="#111" stroke-width="0.85" textLength="118.6" lengthAdjust="spacing">Edificacion</text>
<text x="1732.37" y="289.25" transform="scale(0.78 1)" font-family="Liberation Sans" font-size="20" font-weight="bold" text-anchor="start" fill="#111" stroke="#111" stroke-width="0.85" textLength="78.5" lengthAdjust="spacing">auxiliar</text>
<text x="2097.62" y="265.00" transform="scale(0.7184319936646208 1)" font-family="Liberation Sans" font-size="20" font-weight="bold" text-anchor="start" fill="#111" stroke="#111" stroke-width="0.85" textLength="87.7" lengthAdjust="spacing">Trastero</text>
<text x="2225.96" y="265.00" transform="scale(0.78 1)" font-family="Liberation Sans" font-size="20" font-weight="bold" text-anchor="middle" fill="#111" stroke="#111" stroke-width="0.85" textLength="79.2" lengthAdjust="spacing">6.01 m²</text>
<text x="1734.62" y="323.00" transform="scale(0.78 1)" font-family="Liberation Sans" font-size="23.3" font-weight="bold" text-anchor="start" fill="#111" stroke="#111" stroke-width="1.15" textLength="242.3" lengthAdjust="spacing">Edificacion auxiliar</text>
<text x="2176.92" y="323.00" transform="scale(0.78 1)" font-family="Liberation Sans" font-size="23.3" font-weight="bold" text-anchor="start" fill="#111" stroke="#111" stroke-width="1.15" textLength="98.7" lengthAdjust="spacing">6.01 m²</text>
<line x1="1346.75" y1="333.75" x2="1795.50" y2="333.75" stroke="#8c8c8c" stroke-width="1.2" />
<line x1="1346.75" y1="362.62" x2="1795.50" y2="362.62" stroke="#8c8c8c" stroke-width="1.2" />
<line x1="1346.75" y1="391.50" x2="1795.50" y2="391.50" stroke="#8c8c8c" stroke-width="1.2" />
<line x1="1346.75" y1="420.38" x2="1795.50" y2="420.38" stroke="#8c8c8c" stroke-width="1.2" />
<line x1="1346.75" y1="449.25" x2="1795.50" y2="449.25" stroke="#8c8c8c" stroke-width="1.2" />
<line x1="1346.75" y1="478.12" x2="1795.50" y2="478.12" stroke="#8c8c8c" stroke-width="1.2" />
<line x1="1346.75" y1="507.00" x2="1795.50" y2="507.00" stroke="#8c8c8c" stroke-width="1.2" />
<line x1="1346.75" y1="535.88" x2="1795.50" y2="535.88" stroke="#8c8c8c" stroke-width="1.2" />
<line x1="1346.75" y1="564.75" x2="1795.50" y2="564.75" stroke="#8c8c8c" stroke-width="1.2" />
<line x1="1346.75" y1="593.62" x2="1795.50" y2="593.62" stroke="#8c8c8c" stroke-width="1.2" />
<line x1="1346.75" y1="622.50" x2="1795.50" y2="622.50" stroke="#8c8c8c" stroke-width="1.2" />
<line x1="1346.75" y1="651.38" x2="1795.50" y2="651.38" stroke="#8c8c8c" stroke-width="1.2" />
<line x1="1346.75" y1="680.25" x2="1795.50" y2="680.25" stroke="#8c8c8c" stroke-width="1.2" />
<line x1="1346.75" y1="709.12" x2="1795.50" y2="709.12" stroke="#8c8c8c" stroke-width="1.2" />
<line x1="1346.75" y1="738.00" x2="1795.50" y2="738.00" stroke="#8c8c8c" stroke-width="1.2" />
<line x1="1346.75" y1="333.75" x2="1346.75" y2="738.00" stroke="#8c8c8c" stroke-width="1.2" />
<line x1="1795.50" y1="333.75" x2="1795.50" y2="738.00" stroke="#8c8c8c" stroke-width="1.2" />
<line x1="1502.50" y1="333.75" x2="1502.50" y2="738.00" stroke="#8c8c8c" stroke-width="1.2" />
<line x1="1679.25" y1="333.75" x2="1679.25" y2="738.00" stroke="#8c8c8c" stroke-width="1.2" />
<text x="1822.17" y="354.75" transform="scale(0.741560175472058 1)" font-family="Liberation Sans" font-size="20" font-weight="bold" text-anchor="start" fill="#111" stroke="#111" stroke-width="0.85" textLength="91.0" lengthAdjust="spacing">Vivienda</text>
<text x="2031.65" y="354.75" transform="scale(0.7417608409986859 1)" font-family="Liberation Sans" font-size="20" font-weight="bold" text-anchor="start" fill="#111" stroke="#111" stroke-width="0.85" textLength="132.1" lengthAdjust="spacing">Dormitorio 2</text>
<text x="2226.28" y="354.75" transform="scale(0.78 1)" font-family="Liberation Sans" font-size="20" font-weight="bold" text-anchor="middle" fill="#111" stroke="#111" stroke-width="0.85" textLength="91.0" lengthAdjust="spacing">11.99 m²</text>
<text x="1822.17" y="383.62" transform="scale(0.741560175472058 1)" font-family="Liberation Sans" font-size="20" font-weight="bold" text-anchor="start" fill="#111" stroke="#111" stroke-width="0.85" textLength="91.0" lengthAdjust="spacing">Vivienda</text>
<text x="2031.65" y="383.62" transform="scale(0.7417608409986859 1)" font-family="Liberation Sans" font-size="20" font-weight="bold" text-anchor="start" fill="#111" stroke="#111" stroke-width="0.85" textLength="132.1" lengthAdjust="spacing">Dormitorio 3</text>
<text x="2226.28" y="383.62" transform="scale(0.78 1)" font-family="Liberation Sans" font-size="20" font-weight="bold" text-anchor="middle" fill="#111" stroke="#111" stroke-width="0.85" textLength="91.0" lengthAdjust="spacing">11.99 m²</text>
<text x="1822.17" y="412.50" transform="scale(0.741560175472058 1)" font-family="Liberation Sans" font-size="20" font-weight="bold" text-anchor="start" fill="#111" stroke="#111" stroke-width="0.85" textLength="91.0" lengthAdjust="spacing">Vivienda</text>
<text x="2106.88" y="412.50" transform="scale(0.7152764761012185 1)" font-family="Liberation Sans" font-size="20" font-weight="bold" text-anchor="start" fill="#111" stroke="#111" stroke-width="0.85" textLength="74.1" lengthAdjust="spacing">Baño 2</text>
<text x="2226.28" y="412.50" transform="scale(0.78 1)" font-family="Liberation Sans" font-size="20" font-weight="bold" text-anchor="middle" fill="#111" stroke="#111" stroke-width="0.85" textLength="78.8" lengthAdjust="spacing">4.27 m²</text>
<text x="1822.17" y="441.38" transform="scale(0.741560175472058 1)" font-family="Liberation Sans" font-size="20" font-weight="bold" text-anchor="start" fill="#111" stroke="#111" stroke-width="0.85" textLength="91.0" lengthAdjust="spacing">Vivienda</text>
<text x="2052.60" y="441.38" transform="scale(0.7341918528252299 1)" font-family="Liberation Sans" font-size="20" font-weight="bold" text-anchor="start" fill="#111" stroke="#111" stroke-width="0.85" textLength="132.1" lengthAdjust="spacing">Dormitorio 1</text>
<text x="2226.28" y="441.38" transform="scale(0.78 1)" font-family="Liberation Sans" font-size="20" font-weight="bold" text-anchor="middle" fill="#111" stroke="#111" stroke-width="0.85" textLength="91.0" lengthAdjust="spacing">13.17 m²</text>
<text x="1822.17" y="470.25" transform="scale(0.741560175472058 1)" font-family="Liberation Sans" font-size="20" font-weight="bold" text-anchor="start" fill="#111" stroke="#111" stroke-width="0.85" textLength="91.0" lengthAdjust="spacing">Vivienda</text>
<text x="2084.79" y="470.25" transform="scale(0.7228533685601057 1)" font-family="Liberation Sans" font-size="20" font-weight="bold" text-anchor="start" fill="#111" stroke="#111" stroke-width="0.85" textLength="184.0" lengthAdjust="spacing">Salon&#160;&#160;- Comedor</text>
<text x="2226.28" y="470.25" transform="scale(0.78 1)" font-family="Liberation Sans" font-size="20" font-weight="bold" text-anchor="middle" fill="#111" stroke="#111" stroke-width="0.85" textLength="91.0" lengthAdjust="spacing">35.36 m²</text>
<text x="1822.17" y="499.12" transform="scale(0.741560175472058 1)" font-family="Liberation Sans" font-size="20" font-weight="bold" text-anchor="start" fill="#111" stroke="#111" stroke-width="0.85" textLength="91.0" lengthAdjust="spacing">Vivienda</text>
<text x="2233.29" y="499.12" transform="scale(0.6747891283973758 1)" font-family="Liberation Sans" font-size="20" font-weight="bold" text-anchor="start" fill="#111" stroke="#111" stroke-width="0.85" textLength="74.1" lengthAdjust="spacing">Cocina</text>
<text x="2226.28" y="499.12" transform="scale(0.78 1)" font-family="Liberation Sans" font-size="20" font-weight="bold" text-anchor="middle" fill="#111" stroke="#111" stroke-width="0.85" textLength="91.0" lengthAdjust="spacing">11.32 m²</text>
<text x="1822.17" y="528.00" transform="scale(0.741560175472058 1)" font-family="Liberation Sans" font-size="20" font-weight="bold" text-anchor="start" fill="#111" stroke="#111" stroke-width="0.85" textLength="91.0" lengthAdjust="spacing">Vivienda</text>
<text x="2047.71" y="528.00" transform="scale(0.7359454855195912 1)" font-family="Liberation Sans" font-size="20" font-weight="bold" text-anchor="start" fill="#111" stroke="#111" stroke-width="0.85" textLength="81.5" lengthAdjust="spacing">Pergola</text>
<text x="2226.28" y="528.00" transform="scale(0.78 1)" font-family="Liberation Sans" font-size="20" font-weight="bold" text-anchor="middle" fill="#111" stroke="#111" stroke-width="0.85" textLength="91.0" lengthAdjust="spacing">30.60 m²</text>
<text x="1822.17" y="556.88" transform="scale(0.741560175472058 1)" font-family="Liberation Sans" font-size="20" font-weight="bold" text-anchor="start" fill="#111" stroke="#111" stroke-width="0.85" textLength="91.0" lengthAdjust="spacing">Vivienda</text>
<text x="1992.99" y="556.88" transform="scale(0.7561492399815753 1)" font-family="Liberation Sans" font-size="20" font-weight="bold" text-anchor="start" fill="#111" stroke="#111" stroke-width="0.85" textLength="75.4" lengthAdjust="spacing">Galeria</text>
<text x="2226.28" y="556.88" transform="scale(0.78 1)" font-family="Liberation Sans" font-size="20" font-weight="bold" text-anchor="middle" fill="#111" stroke="#111" stroke-width="0.85" textLength="78.8" lengthAdjust="spacing">4.82 m²</text>
<text x="1822.17" y="585.75" transform="scale(0.741560175472058 1)" font-family="Liberation Sans" font-size="20" font-weight="bold" text-anchor="start" fill="#111" stroke="#111" stroke-width="0.85" textLength="91.0" lengthAdjust="spacing">Vivienda</text>
<text x="2067.86" y="585.75" transform="scale(0.7287722586691658 1)" font-family="Liberation Sans" font-size="20" font-weight="bold" text-anchor="start" fill="#111" stroke="#111" stroke-width="0.85" textLength="74.1" lengthAdjust="spacing">Baño 3</text>
<text x="2226.28" y="585.75" transform="scale(0.78 1)" font-family="Liberation Sans" font-size="20" font-weight="bold" text-anchor="middle" fill="#111" stroke="#111" stroke-width="0.85" textLength="78.8" lengthAdjust="spacing">4.97 m²</text>
<text x="1822.17" y="614.62" transform="scale(0.741560175472058 1)" font-family="Liberation Sans" font-size="20" font-weight="bold" text-anchor="start" fill="#111" stroke="#111" stroke-width="0.85" textLength="91.0" lengthAdjust="spacing">Vivienda</text>
<text x="2145.38" y="614.62" transform="scale(0.702439024390244 1)" font-family="Liberation Sans" font-size="20" font-weight="bold" text-anchor="start" fill="#111" stroke="#111" stroke-width="0.85" textLength="102.5" lengthAdjust="spacing">Recibidor</text>
<text x="2226.28" y="614.62" transform="scale(0.78 1)" font-family="Liberation Sans" font-size="20" font-weight="bold" text-anchor="middle" fill="#111" stroke="#111" stroke-width="0.85" textLength="78.8" lengthAdjust="spacing">3.94 m²</text>
<text x="1822.17" y="643.50" transform="scale(0.741560175472058 1)" font-family="Liberation Sans" font-size="20" font-weight="bold" text-anchor="start" fill="#111" stroke="#111" stroke-width="0.85" textLength="91.0" lengthAdjust="spacing">Vivienda</text>
<text x="2040.73" y="643.50" transform="scale(0.7384615384615385 1)" font-family="Liberation Sans" font-size="20" font-weight="bold" text-anchor="start" fill="#111" stroke="#111" stroke-width="0.85" textLength="125.9" lengthAdjust="spacing">Distribuidor</text>
<text x="2226.28" y="643.50" transform="scale(0.78 1)" font-family="Liberation Sans" font-size="20" font-weight="bold" text-anchor="middle" fill="#111" stroke="#111" stroke-width="0.85" textLength="78.8" lengthAdjust="spacing">9.39 m²</text>
<text x="1822.17" y="672.38" transform="scale(0.741560175472058 1)" font-family="Liberation Sans" font-size="20" font-weight="bold" text-anchor="start" fill="#111" stroke="#111" stroke-width="0.85" textLength="91.0" lengthAdjust="spacing">Vivienda</text>
<text x="2170.58" y="672.38" transform="scale(0.6942857142857143 1)" font-family="Liberation Sans" font-size="20" font-weight="bold" text-anchor="start" fill="#111" stroke="#111" stroke-width="0.85" textLength="77.8" lengthAdjust="spacing">Ropero</text>
<text x="2226.28" y="672.38" transform="scale(0.78 1)" font-family="Liberation Sans" font-size="20" font-weight="bold" text-anchor="middle" fill="#111" stroke="#111" stroke-width="0.85" textLength="78.8" lengthAdjust="spacing">1.32 m²</text>
<text x="1822.17" y="701.25" transform="scale(0.741560175472058 1)" font-family="Liberation Sans" font-size="20" font-weight="bold" text-anchor="start" fill="#111" stroke="#111" stroke-width="0.85" textLength="91.0" lengthAdjust="spacing">Vivienda</text>
<text x="2033.08" y="701.25" transform="scale(0.7412393585428628 1)" font-family="Liberation Sans" font-size="20" font-weight="bold" text-anchor="start" fill="#111" stroke="#111" stroke-width="0.85" textLength="87.7" lengthAdjust="spacing">Vestidor</text>
<text x="2226.28" y="701.25" transform="scale(0.78 1)" font-family="Liberation Sans" font-size="20" font-weight="bold" text-anchor="middle" fill="#111" stroke="#111" stroke-width="0.85" textLength="78.8" lengthAdjust="spacing">5.54 m²</text>
<text x="1822.17" y="730.12" transform="scale(0.741560175472058 1)" font-family="Liberation Sans" font-size="20" font-weight="bold" text-anchor="start" fill="#111" stroke="#111" stroke-width="0.85" textLength="91.0" lengthAdjust="spacing">Vivienda</text>
<text x="2147.39" y="730.12" transform="scale(0.7017806935332709 1)" font-family="Liberation Sans" font-size="20" font-weight="bold" text-anchor="start" fill="#111" stroke="#111" stroke-width="0.85" textLength="74.1" lengthAdjust="spacing">Baño 1</text>
<text x="2226.28" y="730.12" transform="scale(0.78 1)" font-family="Liberation Sans" font-size="20" font-weight="bold" text-anchor="middle" fill="#111" stroke="#111" stroke-width="0.85" textLength="78.8" lengthAdjust="spacing">8.78 m²</text>
<text x="1748.34" y="764.50" transform="scale(0.7735907816879477 1)" font-family="Liberation Sans" font-size="24.5" font-weight="bold" text-anchor="start" fill="#111" stroke="#111" stroke-width="1.15" textLength="111.5" lengthAdjust="spacing">Vivienda</text>
<text x="2161.86" y="764.50" transform="scale(0.78 1)" font-family="Liberation Sans" font-size="24.5" font-weight="bold" text-anchor="start" fill="#111" stroke="#111" stroke-width="1.15" textLength="130.4" lengthAdjust="spacing">157.48 m²</text>
<text x="1953.20" y="800.50" transform="scale(0.6924548352816153 1)" font-family="Liberation Sans" font-size="24.5" font-weight="bold" text-anchor="start" fill="#111" stroke="#111" stroke-width="1.15" textLength="326.7" lengthAdjust="spacing">TOTAL SUPERFICIE UTIL</text>
<text x="2161.86" y="800.50" transform="scale(0.78 1)" font-family="Liberation Sans" font-size="24.5" font-weight="bold" text-anchor="start" fill="#111" stroke="#111" stroke-width="1.15" textLength="130.4" lengthAdjust="spacing">163.49 m²</text>
<line x1="1366.40" y1="902.50" x2="1830.00" y2="902.50" stroke="#8c8c8c" stroke-width="1.2" />
<line x1="1366.40" y1="951.20" x2="1830.00" y2="951.20" stroke="#8c8c8c" stroke-width="1.2" />
<line x1="1366.40" y1="979.80" x2="1830.00" y2="979.80" stroke="#8c8c8c" stroke-width="1.2" />
<line x1="1366.40" y1="902.50" x2="1366.40" y2="979.80" stroke="#8c8c8c" stroke-width="1.2" />
<line x1="1830.00" y1="902.50" x2="1830.00" y2="979.80" stroke="#8c8c8c" stroke-width="1.2" />
<line x1="1702.30" y1="951.20" x2="1702.30" y2="979.80" stroke="#8c8c8c" stroke-width="1.2" />
<text x="2396.63" y="935.00" transform="scale(0.667060302677532 1)" font-family="Liberation Sans" font-size="23.5" font-weight="bold" text-anchor="middle" fill="#111" stroke="#111" stroke-width="1.15" textLength="372.8" lengthAdjust="spacing">SUPERFICIES CONSTRUIDAS</text>
<text x="2218.82" y="972.00" transform="scale(0.6915373352855051 1)" font-family="Liberation Sans" font-size="20" font-weight="bold" text-anchor="middle" fill="#111" stroke="#111" stroke-width="0.85" textLength="118.6" lengthAdjust="spacing">Edificacion</text>
<text x="2423.68" y="972.00" transform="scale(0.7286015460295151 1)" font-family="Liberation Sans" font-size="20" font-weight="bold" text-anchor="middle" fill="#111" stroke="#111" stroke-width="0.85" textLength="49.4" lengthAdjust="spacing">Área</text>
<line x1="1366.40" y1="1016.80" x2="1830.00" y2="1016.80" stroke="#8c8c8c" stroke-width="1.2" />
<line x1="1366.40" y1="1045.50" x2="1830.00" y2="1045.50" stroke="#8c8c8c" stroke-width="1.2" />
<line x1="1366.40" y1="1074.40" x2="1830.00" y2="1074.40" stroke="#8c8c8c" stroke-width="1.2" />
<line x1="1366.40" y1="1103.00" x2="1830.00" y2="1103.00" stroke="#8c8c8c" stroke-width="1.2" />
<line x1="1366.40" y1="1016.80" x2="1366.40" y2="1103.00" stroke="#8c8c8c" stroke-width="1.2" />
<line x1="1830.00" y1="1016.80" x2="1830.00" y2="1103.00" stroke="#8c8c8c" stroke-width="1.2" />
<line x1="1702.30" y1="1016.80" x2="1702.30" y2="1103.00" stroke="#8c8c8c" stroke-width="1.2" />
<text x="1843.88" y="1037.70" transform="scale(0.74375739080679 1)" font-family="Liberation Sans" font-size="20" font-weight="bold" text-anchor="start" fill="#111" stroke="#111" stroke-width="0.85" textLength="91.0" lengthAdjust="spacing">Vivienda</text>
<text x="2263.33" y="1037.70" transform="scale(0.78 1)" font-family="Liberation Sans" font-size="20" font-weight="bold" text-anchor="middle" fill="#111" stroke="#111" stroke-width="0.85" textLength="104.9" lengthAdjust="spacing">151.00 m²</text>
<text x="1863.45" y="1066.30" transform="scale(0.7359454855195912 1)" font-family="Liberation Sans" font-size="20" font-weight="bold" text-anchor="start" fill="#111" stroke="#111" stroke-width="0.85" textLength="81.5" lengthAdjust="spacing">Pergola</text>
<text x="2263.33" y="1066.30" transform="scale(0.78 1)" font-family="Liberation Sans" font-size="20" font-weight="bold" text-anchor="middle" fill="#111" stroke="#111" stroke-width="0.85" textLength="90.1" lengthAdjust="spacing">30.60 m²</text>
<text x="1908.88" y="1095.70" transform="scale(0.7184319936646208 1)" font-family="Liberation Sans" font-size="20" font-weight="bold" text-anchor="start" fill="#111" stroke="#111" stroke-width="0.85" textLength="87.7" lengthAdjust="spacing">Trastero</text>
<text x="2263.33" y="1095.70" transform="scale(0.78 1)" font-family="Liberation Sans" font-size="20" font-weight="bold" text-anchor="middle" fill="#111" stroke="#111" stroke-width="0.85" textLength="78.5" lengthAdjust="spacing">8.17 m²</text>
<text x="1923.48" y="1129.60" transform="scale(0.7137568058076226 1)" font-family="Liberation Sans" font-size="24.5" font-weight="bold" text-anchor="start" fill="#111" stroke="#111" stroke-width="1.15" textLength="344.4" lengthAdjust="spacing">TOTAL SUP. CONSTRUIDA</text>
<text x="2199.87" y="1129.60" transform="scale(0.78 1)" font-family="Liberation Sans" font-size="24.5" font-weight="bold" text-anchor="start" fill="#111" stroke="#111" stroke-width="1.15" textLength="130.1" lengthAdjust="spacing">189.78 m²</text>
<text x="1969.61" y="1204.4" transform="scale(0.7047 1)" font-family="Liberation Sans" font-size="16.5" fill="#222" stroke="#222" stroke-width="0.2" textLength="327.8" lengthAdjust="spacing">SUPERFICIE PAVIMENTADA: 136.14 m²</text>
</svg>
</body></html>
